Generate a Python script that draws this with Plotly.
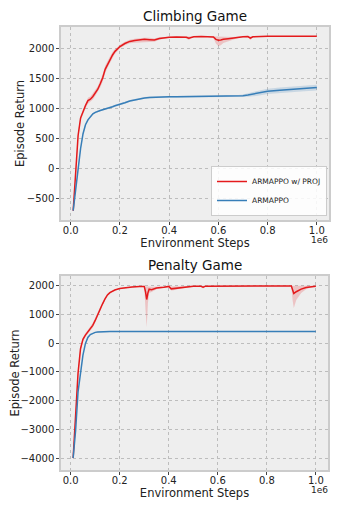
import plotly.graph_objects as go
from plotly.subplots import make_subplots

# environment steps (in units of 1e6)
climb_steps = [0.01, 0.02, 0.03, 0.04, 0.05, 0.06, 0.07, 0.08, 0.09, 0.10,
               0.11, 0.12, 0.13, 0.14, 0.15, 0.16, 0.17, 0.18, 0.19, 0.20,
               0.22, 0.24, 0.26, 0.28, 0.30, 0.32, 0.34, 0.36, 0.38, 0.40,
               0.43, 0.46, 0.47, 0.48, 0.49, 0.50, 0.53, 0.56, 0.58, 0.59,
               0.60, 0.61, 0.62, 0.64, 0.66, 0.68, 0.70, 0.72, 0.73, 0.74,
               0.76, 0.80, 0.85, 0.90, 0.95, 1.00]

climb_proj = [-700, -150, 550, 840, 950, 1050, 1130, 1155, 1200, 1260,
              1320, 1410, 1510, 1650, 1740, 1820, 1890, 1950, 1990, 2030,
              2080, 2115, 2130, 2140, 2150, 2145, 2140, 2165, 2180, 2185,
              2190, 2192, 2185, 2170, 2185, 2192, 2195, 2195, 2190, 2150,
              2135, 2138, 2150, 2160, 2175, 2185, 2193, 2195, 2170, 2192,
              2198, 2200, 2200, 2200, 2200, 2200]
climb_proj_lo = [-720, -190, 500, 800, 910, 1000, 1080, 1110, 1150, 1210,
                 1270, 1350, 1450, 1590, 1680, 1770, 1840, 1910, 1960, 2000,
                 2050, 2085, 2095, 2100, 2110, 2110, 2110, 2145, 2165, 2175,
                 2182, 2185, 2165, 2140, 2170, 2185, 2190, 2190, 2170, 2080,
                 2040, 2050, 2090, 2120, 2150, 2170, 2185, 2185, 2140, 2180,
                 2192, 2196, 2196, 2196, 2196, 2196]
climb_proj_hi = [-680, -110, 600, 880, 990, 1100, 1180, 1200, 1250, 1310,
                 1370, 1470, 1570, 1710, 1800, 1870, 1940, 1990, 2020, 2060,
                 2110, 2145, 2160, 2170, 2175, 2175, 2165, 2185, 2192, 2195,
                 2198, 2199, 2198, 2195, 2198, 2199, 2200, 2200, 2199, 2198,
                 2195, 2190, 2185, 2185, 2190, 2195, 2199, 2200, 2195, 2200,
                 2202, 2204, 2204, 2204, 2204, 2204]

climb_base = [-700, -330, 50, 330, 580, 730, 810, 870, 910, 935,
              955, 967, 980, 990, 1000, 1015, 1030, 1045, 1055, 1067,
              1095, 1125, 1145, 1160, 1175, 1183, 1188, 1190, 1192, 1193,
              1194, 1195, 1195, 1195, 1195, 1195, 1196, 1197, 1198, 1198,
              1199, 1199, 1200, 1200, 1201, 1205, 1212, 1225, 1232, 1240,
              1255, 1285, 1305, 1320, 1335, 1350]
climb_base_lo = [-715, -350, 30, 310, 560, 712, 793, 853, 894, 920,
                 940, 952, 965, 975, 985, 1000, 1015, 1030, 1040, 1052,
                 1080, 1110, 1130, 1145, 1160, 1168, 1173, 1175, 1177, 1178,
                 1179, 1180, 1180, 1180, 1180, 1180, 1181, 1182, 1182, 1182,
                 1182, 1182, 1183, 1183, 1183, 1185, 1190, 1195, 1198, 1202,
                 1212, 1240, 1260, 1275, 1288, 1300]
climb_base_hi = [-685, -310, 70, 350, 600, 748, 827, 887, 926, 950,
                 970, 982, 995, 1005, 1015, 1030, 1045, 1060, 1070, 1082,
                 1110, 1140, 1160, 1175, 1190, 1198, 1203, 1205, 1207, 1208,
                 1209, 1210, 1210, 1210, 1210, 1210, 1211, 1212, 1214, 1214,
                 1216, 1216, 1217, 1218, 1220, 1225, 1234, 1255, 1266, 1278,
                 1298, 1330, 1350, 1365, 1380, 1395]

penalty_steps = [0.01, 0.02, 0.03, 0.04, 0.05, 0.06, 0.07, 0.08, 0.09, 0.10,
                 0.11, 0.12, 0.13, 0.14, 0.15, 0.16, 0.17, 0.18, 0.20, 0.22,
                 0.25, 0.28, 0.30, 0.305, 0.31, 0.315, 0.32, 0.33, 0.35, 0.38,
                 0.40, 0.41, 0.42, 0.45, 0.48, 0.50, 0.53, 0.54, 0.55, 0.60,
                 0.70, 0.80, 0.90, 0.905, 0.91, 0.92, 0.94, 0.96, 0.98, 1.00]

penalty_proj = [-4000, -2300, -1050, -200, 130, 280, 380, 510, 620, 790,
                1000, 1200, 1370, 1540, 1680, 1760, 1810, 1850, 1900, 1930,
                1955, 1970, 1975, 1800, 1520, 1750, 1880, 1860, 1920, 1950,
                1975, 1890, 1900, 1940, 1965, 1978, 1985, 1950, 1985, 1990,
                1992, 1990, 1990, 1850, 1730, 1790, 1880, 1940, 1970, 1980]
penalty_proj_lo = [-4120, -2400, -1150, -300, 60, 220, 320, 440, 540, 720,
                   930, 1140, 1310, 1490, 1640, 1730, 1785, 1830, 1885, 1915,
                   1940, 1955, 1960, 1200, 550, 1400, 1750, 1780, 1880, 1930,
                   1960, 1830, 1840, 1900, 1945, 1965, 1975, 1900, 1975, 1982,
                   1985, 1982, 1982, 1500, 1220, 1500, 1750, 1880, 1945, 1965]
penalty_proj_hi = [-3880, -2200, -950, -100, 200, 340, 440, 580, 700, 860,
                   1070, 1260, 1430, 1590, 1720, 1790, 1835, 1870, 1915, 1945,
                   1970, 1985, 1990, 1985, 1980, 1975, 1975, 1960, 1965, 1975,
                   1990, 1980, 1975, 1980, 1985, 1990, 1995, 1990, 1995, 1998,
                   1998, 1998, 1998, 1990, 1985, 1980, 1975, 1985, 1992, 1995]

penalty_base = [-4000, -3050, -1700, -950, -420, -20, 200, 300, 350, 375,
                388, 395, 398, 400, 401, 402, 402, 403, 403, 403,
                403, 403, 403, 403, 403, 403, 403, 403, 403, 403,
                403, 403, 403, 403, 403, 403, 403, 403, 403, 403,
                403, 403, 403, 403, 403, 403, 403, 403, 403, 403]
penalty_base_lo = [v - 15 for v in penalty_base]
penalty_base_hi = [v + 15 for v in penalty_base]

RED = "#e41a1c"
BLUE = "#377eb8"
FONT = "DejaVu Sans"

# the page body has an 8px margin, so the figure is laid out in window pixels
# shifted by that offset
OFF = 8
W, H = 339 - OFF, 509 - OFF


def px(x):
    return (x - OFF) / W


def py(y):
    return 1 - (y - OFF) / H


fig = make_subplots(rows=2, cols=1)


def add_series(x, mean, lo, hi, color, fill, name, row, legend):
    fig.add_trace(go.Scatter(x=x, y=hi, mode="lines", line=dict(width=0),
                             showlegend=False, hoverinfo="skip"), row=row, col=1)
    fig.add_trace(go.Scatter(x=x, y=lo, mode="lines", line=dict(width=0),
                             fill="tonexty", fillcolor=fill,
                             showlegend=False, hoverinfo="skip"), row=row, col=1)
    fig.add_trace(go.Scatter(x=x, y=mean, mode="lines", name=name,
                             line=dict(color=color, width=1.5),
                             showlegend=legend), row=row, col=1)


add_series(climb_steps, climb_proj, climb_proj_lo, climb_proj_hi, RED,
           "rgba(228,26,28,0.2)", "ARMAPPO w/ PROJ", 1, True)
add_series(climb_steps, climb_base, climb_base_lo, climb_base_hi, BLUE,
           "rgba(55,126,184,0.2)", "ARMAPPO", 1, True)
add_series(penalty_steps, penalty_proj, penalty_proj_lo, penalty_proj_hi, RED,
           "rgba(228,26,28,0.2)", "ARMAPPO w/ PROJ", 2, False)
add_series(penalty_steps, penalty_base, penalty_base_lo, penalty_base_hi, BLUE,
           "rgba(55,126,184,0.2)", "ARMAPPO", 2, False)

axis_common = dict(
    automargin=False,
    showline=True, mirror=True, linecolor="#cccccc", linewidth=1.5,
    showgrid=True, gridcolor="#bdbdbd", griddash="dot", gridwidth=0.8,
    zeroline=False, ticks="outside", ticklen=3, tickcolor="#444",
    tickfont=dict(family=FONT, size=10, color="#222"),
    title_font=dict(family=FONT, size=11.5, color="#222"),
)

fig.update_xaxes(**axis_common, range=[-0.0395, 1.0495], dtick=0.2,
                 tickformat=".1f", title_text="Environment Steps",
                 title_standoff=4, ticklabelstandoff=-3)
fig.update_yaxes(**axis_common, title_text="Episode Return")

fig.update_layout(
    xaxis=dict(domain=[px(61), px(329)], anchor="y"),
    yaxis=dict(domain=[py(220), py(27)], range=[-855, 2355], dtick=500,
               title_standoff=0),
    xaxis2=dict(domain=[px(61), px(328)], anchor="y2"),
    yaxis2=dict(domain=[py(470), py(276)], range=[-4418, 2338], dtick=1000),
)

for text, y in [("Climbing Game", 16), ("Penalty Game", 265)]:
    fig.add_annotation(text=text, x=px(195), y=py(y), xref="paper", yref="paper",
                       showarrow=False, xanchor="center", yanchor="middle",
                       font=dict(family=FONT, size=13.5, color="#111"))
for y in [240, 490]:
    fig.add_annotation(text="1e6", x=px(330), y=py(y), xref="paper", yref="paper",
                       showarrow=False, xanchor="right", yanchor="middle",
                       font=dict(family=FONT, size=9, color="#222"))

fig.update_layout(
    width=W, height=H,
    margin=dict(l=0, r=0, t=0, b=0),
    paper_bgcolor="white", plot_bgcolor="#eeeeee",
    font=dict(family=FONT, color="#222"),
    legend=dict(x=px(327), xanchor="right", y=py(216), yanchor="bottom",
                bgcolor="rgba(255,255,255,0.85)", bordercolor="#cccccc",
                borderwidth=1, font=dict(family=FONT, size=7.5, color="#222"),
                traceorder="normal", tracegroupgap=0, itemwidth=30),
)

fig.write_html("out.html")
